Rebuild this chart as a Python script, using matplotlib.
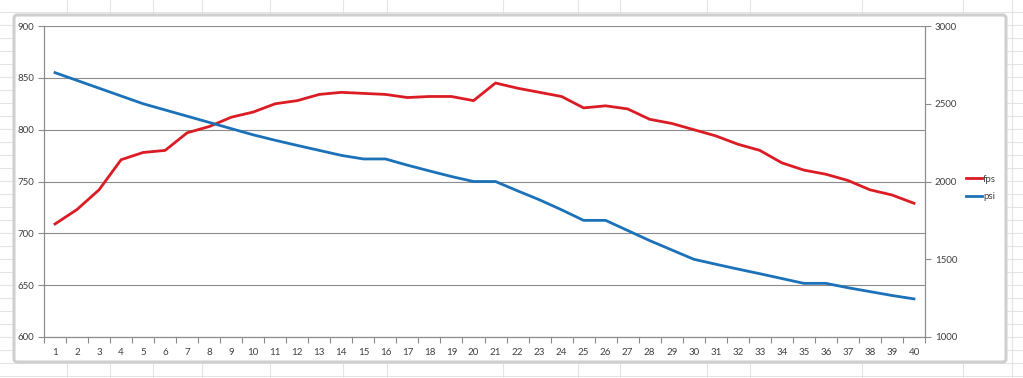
import matplotlib
matplotlib.use("Agg")
import matplotlib.pyplot as plt
from matplotlib.patches import FancyBboxPatch, Rectangle
from matplotlib.lines import Line2D
from matplotlib.ticker import FixedLocator, NullFormatter

plt.rcParams['font.family'] = ['Lato', 'DejaVu Sans']

categories = list(range(1, 41))
fps = [709, 723, 742, 771, 778, 780, 797, 803, 812, 817,
       825, 828, 834, 836, 835, 834, 831, 832, 832, 828,
       845, 840, 836, 832, 821, 823, 820, 810, 806, 800,
       794, 786, 780, 768, 761, 757, 751, 742, 737, 729]
psi = [2700, 2650, 2600, 2550, 2500, 2460, 2420, 2380, 2340, 2300,
       2265, 2232, 2200, 2168, 2145, 2145, 2105, 2068, 2032, 2000,
       2000, 1940, 1882, 1818, 1750, 1750, 1685, 1620, 1560, 1500,
       1468, 1437, 1407, 1376, 1345, 1345, 1317, 1292, 1267, 1245]
left_ticks = [600, 650, 700, 750, 800, 850, 900]
right_ticks = [1000, 1500, 2000, 2500, 3000]

W, H = 1023, 378
fig = plt.figure(figsize=(W / 100, H / 100), dpi=100)
fig.patch.set_facecolor('white')

# spreadsheet cell grid in the background
bg = fig.add_axes([0, 0, 1, 1], zorder=-10)
bg.set_xlim(0, W)
bg.set_ylim(H, 0)
bg.axis('off')
for xv in [67, 110, 153, 202, 270, 343, 387, 503, 578, 620, 707, 750, 862, 963, 1012]:
    bg.axvline(xv, color='#e4e4e4', lw=0.8)
for yv in range(12, H, 13):
    bg.axhline(yv, color='#e4e4e4', lw=0.8)
# chart area
bg.add_patch(FancyBboxPatch((14, 15), 992, 347, boxstyle="round,pad=0,rounding_size=3",
                            facecolor='white', edgecolor='#cfcfcf', lw=2.2, zorder=2))

ax = fig.add_axes([44 / W, 41 / H, 881 / W, 311 / H], zorder=1)
ax.patch.set_alpha(0)
ax2 = ax.twinx()

ax.plot(categories, fps, color='#DC1C24', lw=2.0, label='fps', zorder=3,
        solid_joinstyle='round')
ax2.plot(categories, psi, color='#1C72B8', lw=2.0, label='psi', zorder=3,
         solid_joinstyle='round')

ax.set_xlim(0.5, 40.5)
ax.set_ylim(600, 900)
ax2.set_ylim(1000, 3000)

ax.set_yticks(left_ticks)
ax2.set_yticks(right_ticks)
ax.yaxis.grid(True, color='#8c8c8c', lw=0.8)
ax.set_axisbelow(True)

ax.xaxis.set_major_locator(FixedLocator(categories))
ax.set_xticklabels([str(c) for c in categories])
ax.xaxis.set_minor_locator(FixedLocator([c - 0.5 for c in categories] + [40.5]))
ax.xaxis.set_minor_formatter(NullFormatter())
ax.tick_params(axis='x', which='major', length=0, pad=8, labelsize=7, colors='#404040')
ax.tick_params(axis='x', which='minor', length=4, width=0.8, color='#8c8c8c', direction='out')
ax.tick_params(axis='y', length=4, width=0.8, color='#8c8c8c', labelsize=7,
               labelcolor='#404040', pad=3)
ax2.tick_params(axis='y', length=4, width=0.8, color='#8c8c8c', labelsize=7,
                labelcolor='#404040', pad=3)

for a in (ax, ax2):
    for s in ('top',):
        a.spines[s].set_visible(False)
    for s in ('left', 'right', 'bottom'):
        a.spines[s].set_color('#8c8c8c')
        a.spines[s].set_linewidth(0.8)

handles = [Line2D([], [], color='#DC1C24', lw=2.0), Line2D([], [], color='#1C72B8', lw=2.0)]
fig.legend(handles, ['fps', 'psi'], loc='center left',
           bbox_to_anchor=(957 / W, (H - 188) / H), frameon=False,
           fontsize=7, handlelength=1.7, handletextpad=0.1, labelspacing=0.9,
           labelcolor='#404040')

fig.savefig('out.png', dpi=100)
